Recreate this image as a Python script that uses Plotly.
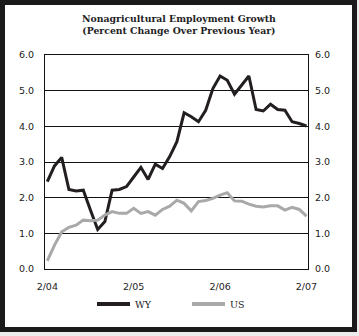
import plotly.graph_objects as go

# ---- data ----
months = [f"{m}/{y:02d}" for y, m in
          [(4, 2), (4, 3), (4, 4), (4, 5), (4, 6), (4, 7), (4, 8), (4, 9), (4, 10), (4, 11), (4, 12),
           (5, 1), (5, 2), (5, 3), (5, 4), (5, 5), (5, 6), (5, 7), (5, 8), (5, 9), (5, 10), (5, 11), (5, 12),
           (6, 1), (6, 2), (6, 3), (6, 4), (6, 5), (6, 6), (6, 7), (6, 8), (6, 9), (6, 10), (6, 11), (6, 12),
           (7, 1), (7, 2)]]
wy = [2.45, 2.89, 3.13, 2.23, 2.19, 2.21, 1.65, 1.11, 1.33, 2.21, 2.23, 2.31,
      2.58, 2.85, 2.51, 2.94, 2.82, 3.15, 3.57, 4.38, 4.27, 4.13, 4.45, 5.06,
      5.41, 5.29, 4.90, 5.15, 5.41, 4.47, 4.43, 4.62, 4.47, 4.45, 4.13, 4.08, 4.01]
us = [0.23, 0.67, 1.04, 1.17, 1.23, 1.37, 1.35, 1.37, 1.51, 1.61, 1.56, 1.56,
      1.70, 1.56, 1.61, 1.51, 1.67, 1.76, 1.93, 1.84, 1.63, 1.89, 1.92, 1.98,
      2.07, 2.14, 1.91, 1.90, 1.82, 1.76, 1.74, 1.77, 1.77, 1.65, 1.73, 1.67, 1.48]
tick_months = ["2/04", "2/05", "2/06", "2/07"]
y_ticks = [0, 1, 2, 3, 4, 5, 6]
series_names = ["WY", "US"]
title_lines = ["Nonagricultural Employment Growth", "(Percent Change Over Previous Year)"]

WY_COLOR = "#231f20"
US_COLOR = "#a9a9a9"
TICK_FONT = dict(family="DejaVu Sans", size=9.5, color="#222")
SERIF = "DejaVu Serif"

W, H = 359, 336
L, R, T, B = 45, 308, 55, 269  # plot area in px


def px_x(px):
    return (px - L) / (R - L)


def px_y(py):
    return (B - py) / (B - T)


fig = go.Figure()
fig.add_trace(go.Scatter(x=months, y=wy, mode="lines", name=series_names[0],
                         line=dict(color=WY_COLOR, width=3), showlegend=False))
fig.add_trace(go.Scatter(x=months, y=us, mode="lines", name=series_names[1],
                         line=dict(color=US_COLOR, width=3), showlegend=False))
# invisible trace to carry right axis
fig.add_trace(go.Scatter(x=months[:1], y=[0], yaxis="y2", mode="markers",
                         marker=dict(opacity=0), showlegend=False, hoverinfo="skip"))

shapes = [
    dict(type="rect", xref="paper", yref="paper",
         x0=px_x(2.5), x1=px_x(354.5), y0=px_y(329.5), y1=px_y(2.5),
         line=dict(color="#1a1a1a", width=5), fillcolor="white", layer="below"),
]
# manual legend
legend_items = [(series_names[0], WY_COLOR, 97, 130), (series_names[1], US_COLOR, 192, 225)]
annotations = []
for name, col, a, b in legend_items:
    shapes.append(dict(type="line", xref="paper", yref="paper",
                       x0=px_x(a), x1=px_x(b), y0=px_y(304), y1=px_y(304),
                       line=dict(color=col, width=4)))
    annotations.append(dict(text=name, xref="paper", yref="paper",
                            x=px_x(b + 3), y=px_y(304.5), xanchor="left", yanchor="middle",
                            showarrow=False, font=dict(family=SERIF, size=9.5, color="#222")))

annotations.append(dict(text="<b>" + title_lines[0] + "</b><br><b>" + title_lines[1] + "</b>",
                        xref="paper", yref="paper", x=px_x(179), y=px_y(11),
                        xanchor="center", yanchor="top", showarrow=False,
                        font=dict(family=SERIF, size=9.3, color="#222")))

fig.update_layout(
    width=W, height=H,
    margin=dict(l=L, r=W - R, t=T, b=H - B, pad=0),
    paper_bgcolor="#ececec", plot_bgcolor="white",
    shapes=shapes, annotations=annotations,
    xaxis=dict(type="category", range=[-0.32, 36.21],
               tickvals=[months[0], months[12], months[24], months[36]],
               ticktext=tick_months, showgrid=False, zeroline=False,
               showline=True, linecolor="#111", linewidth=1, mirror=True,
               ticks="", tickfont=TICK_FONT, ticklabelstandoff=9),
    yaxis=dict(range=[0, 6], tickvals=y_ticks, tickformat=".1f",
               showgrid=True, gridcolor="#111", gridwidth=1, zeroline=False,
               showline=True, linecolor="#111", linewidth=1,
               ticks="", tickfont=TICK_FONT, ticklabelstandoff=8),
    yaxis2=dict(range=[0, 6], tickvals=y_ticks, tickformat=".1f", overlaying="y",
                side="right", showgrid=False, zeroline=False,
                showline=True, linecolor="#111", linewidth=1,
                ticks="", tickfont=TICK_FONT, ticklabelstandoff=4),
)
fig.write_html("out.html")
